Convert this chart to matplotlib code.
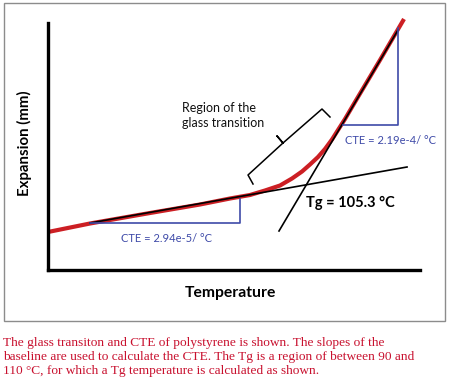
import matplotlib
matplotlib.use("Agg")
import matplotlib.pyplot as plt
from matplotlib.patches import Rectangle

plt.rcParams["font.family"] = ["Lato", "DejaVu Sans"]

# measured expansion curve (red), temperature in degC, expansion in arbitrary mm units
curve_T = [44.24, 54.14, 68.30, 80.09, 87.17, 91.89, 95.43, 98.97, 101.80,
           104.16, 106.04, 107.93, 109.58, 111.23, 112.65, 114.30, 116.66,
           122.56, 128.22]
curve_E = [0.38, 0.465, 0.57, 0.655, 0.715, 0.75, 0.795, 0.845, 0.915,
           0.985, 1.055, 1.13, 1.21, 1.305, 1.40, 1.51, 1.68,
           2.10, 2.51]

# tangent lines
glass_T = [54.14, 128.93]
glass_E = [0.47, 1.03]
rubber_T = [98.73, 126.80]
rubber_E = [0.39, 2.40]

# slope triangles
tri_low_T = [54.14, 89.53, 89.53]
tri_low_E = [0.47, 0.47, 0.71]
tri_high_T = [113.83, 126.80, 126.80]
tri_high_E = [1.45, 1.45, 2.42]

# bracket marking the transition region
brace_T = [92.60, 91.42, 99.67, 98.26, 99.67, 108.87, 110.76]
brace_E = [0.86, 0.95, 1.27, 1.34, 1.27, 1.61, 1.53]

tg = 105.3
cte_glass = "2.94e-5"
cte_rubber = "2.19e-4"

W, H = 449, 387
fig = plt.figure(figsize=(W / 100, H / 100), dpi=100)

# grey frame around the chart
fig.patches.append(Rectangle((4 / W, 1 - 321 / H), 441 / W, 318 / H,
                             transform=fig.transFigure, fill=False,
                             edgecolor="#8c8c8c", linewidth=1.0))

ax = fig.add_axes([48 / W, 1 - 270 / H, 372 / W, 247 / H])
ax.set_xlim(44.24, 131.99)
ax.set_ylim(0, 2.47)
for s in ["top", "right"]:
    ax.spines[s].set_visible(False)
for s in ["left", "bottom"]:
    ax.spines[s].set_linewidth(2.4)
ax.set_xticks([])
ax.set_yticks([])
ax.patch.set_alpha(0)

blue = "#3e4aa8"
ax.plot(curve_T, curve_E, color="#cc1f24", lw=3.0, solid_capstyle="butt",
        solid_joinstyle="round", clip_on=False)
ax.plot(glass_T, glass_E, color="black", lw=1.2, clip_on=False)
ax.plot(rubber_T, rubber_E, color="black", lw=1.2, clip_on=False)
ax.plot(tri_low_T, tri_low_E, color=blue, lw=1.2, clip_on=False)
ax.plot(tri_high_T, tri_high_E, color=blue, lw=1.2, clip_on=False)
ax.plot(brace_T, brace_E, color="black", lw=1.1, clip_on=False)

ax.text(75.85, 1.545, "Region of the\nglass transition", fontsize=9,
        ha="left", va="center", linespacing=1.3, color="#111111")
ax.text(114.3, 1.30, f"CTE = {cte_rubber}/ °C", fontsize=8, color=blue,
        ha="left", va="center")
ax.text(61.46, 0.31, f"CTE = {cte_glass}/ °C", fontsize=8, color=blue,
        ha="left", va="center")
ax.text(105.1, 0.67, f"Tg = {tg} °C", fontsize=10.5, fontweight="bold",
        ha="left", va="center")

fig.text(24 / W, 1 - 143 / H, "Expansion (mm)", rotation=90, fontsize=10.8,
         fontweight="bold", ha="center", va="center")
fig.text(230 / W, 1 - 293 / H, "Temperature", fontsize=11.3,
         fontweight="bold", ha="center", va="center")

caption = ("The glass transiton and CTE of polystyrene is shown. The slopes of the\n"
           "baseline are used to calculate the CTE. The Tg is a region of between 90 and\n"
           "110 °C, for which a Tg temperature is calculated as shown.")
fig.text(3 / W, 1 - 337 / H, caption, family="Liberation Serif", fontsize=9.6,
         color="#c8102e", ha="left", va="top", linespacing=1.24)

fig.savefig("out.png", dpi=100)
